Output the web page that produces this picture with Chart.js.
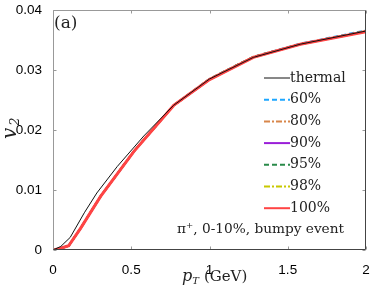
<!DOCTYPE html>
<html>
<head>
<meta charset="utf-8">
<script src="https://cdn.jsdelivr.net/npm/chart.js@4"></script>
<style>
  html, body { margin: 0; padding: 0; background: #fff; }
  #wrap { width: 374px; height: 291px; }
</style>
</head>
<body>
<div id="wrap"><canvas id="myChart" width="374" height="291"></canvas></div>
<script>
// pT values (GeV) and v2
const ptThermal = [0, 0.05, 0.11, 0.2, 0.28, 0.41, 0.58, 0.77, 1.0, 1.28, 1.58, 2.0];
const v2Thermal = [0, 0.0006, 0.0021, 0.0062, 0.0095, 0.0139, 0.019, 0.0241, 0.0285, 0.0321, 0.0343, 0.0365];

const ptBumpy = [0, 0.04, 0.1, 0.176, 0.303, 0.516, 0.771, 1.0, 1.28, 1.58, 2.0];
const v2Pct60 = [0, 0.0002, 0.0007, 0.0036, 0.0089, 0.0164, 0.0241, 0.0285, 0.0322, 0.0344, 0.0366];
const v2Pct80 = [0, 0.0002, 0.0007, 0.0036, 0.0089, 0.0164, 0.0241, 0.0285, 0.0322, 0.0343, 0.0365];
const v2Pct90 = [0, 0.0002, 0.0007, 0.0036, 0.0089, 0.0164, 0.0241, 0.0284, 0.0321, 0.0343, 0.0364];
const v2Pct95 = [0, 0.0002, 0.0007, 0.0036, 0.0089, 0.0164, 0.0241, 0.0285, 0.0322, 0.0343, 0.0365];
const v2Pct98 = [0, 0.0002, 0.0007, 0.0036, 0.0089, 0.0164, 0.0241, 0.0284, 0.0321, 0.0343, 0.0364];
const v2Pct100 = [0, 0.0002, 0.0007, 0.0036, 0.0089, 0.0164, 0.0241, 0.0284, 0.0321, 0.0343, 0.0364];

const xTicks = [0, 0.5, 1, 1.5, 2];
const yTicks = [0, 0.01, 0.02, 0.03, 0.04];

function pts(xs, ys) {
    return xs.map((x, i) => ({ x: x, y: ys[i] }));
}

const serif = "'DejaVu Serif', 'Liberation Serif', serif";
const sans = "Liberation Sans, Arial, sans-serif";

// box, inward ticks on all four sides, legend and labels
const decor = {
    id: 'decor',
    afterDraw(chart) {
        const ctx = chart.ctx;
        const a = chart.chartArea;
        const xs = chart.scales.x, ys = chart.scales.y;
        const L = a.left + 0.5, R = a.right - 0.5, T = a.top + 0.5, B = a.bottom - 0.5;
        ctx.save();
        ctx.lineWidth = 1;
        ctx.strokeStyle = '#999';
        ctx.beginPath();
        xTicks.forEach(t => {
            const px = Math.round(xs.getPixelForValue(t)) + 0.5;
            ctx.moveTo(px, B); ctx.lineTo(px, B - 3);
            ctx.moveTo(px, T); ctx.lineTo(px, T + 3);
        });
        yTicks.forEach(t => {
            const py = Math.round(ys.getPixelForValue(t)) + 0.5;
            ctx.moveTo(L, py); ctx.lineTo(L + 3, py);
            ctx.moveTo(R, py); ctx.lineTo(R - 3, py);
        });
        ctx.stroke();
        ctx.beginPath();
        ctx.moveTo(L, B); ctx.lineTo(L, T); ctx.lineTo(R, T);
        ctx.stroke();
        ctx.strokeStyle = '#444';
        ctx.beginPath();
        ctx.moveTo(L, B); ctx.lineTo(R, B); ctx.lineTo(R, T);
        ctx.stroke();

        // legend
        ctx.font = '14px ' + serif;
        ctx.textBaseline = 'middle';
        ctx.fillStyle = '#222';
        chart.data.datasets.forEach((ds, i) => {
            const y = 78 + i * 21.7;
            ctx.beginPath();
            ctx.strokeStyle = ds.borderColor;
            ctx.lineWidth = Math.min(ds.borderWidth, 2);
            ctx.setLineDash(ds.borderDash || []);
            ctx.moveTo(264, y); ctx.lineTo(290, y);
            ctx.stroke();
            ctx.setLineDash([]);
            ctx.fillText(ds.label, 290, y);
        });

        // annotation
        ctx.font = '13.7px ' + serif;
        ctx.fillText('π⁺, 0-10%, bumpy event', 177, 229);
        ctx.font = '17px ' + serif;
        ctx.fillText('(a)', 54, 24);

        // x axis title
        ctx.textBaseline = 'alphabetic';
        ctx.font = 'italic 16px ' + serif;
        let x0 = 182;
        ctx.fillText('p', x0, 281);
        x0 += ctx.measureText('p').width;
        ctx.font = 'italic 10px ' + serif;
        ctx.fillText('T', x0, 284);
        x0 += ctx.measureText('T').width + 5;
        ctx.font = '15px ' + serif;
        ctx.fillText('(GeV)', x0, 281);

        // y axis title
        ctx.translate(16, 139);
        ctx.rotate(-Math.PI / 2);
        ctx.font = 'italic 20px ' + serif;
        ctx.fillText('v', 0, 0);
        ctx.font = 'italic 13px ' + serif;
        ctx.fillText('2', ctx.measureText('v').width + 6, 3);
        ctx.restore();
    }
};

const ctx = document.getElementById('myChart').getContext('2d');
const myChart = new Chart(ctx, {
    type: 'line',
    data: {
        datasets: [
            { label: 'thermal', order: 0, data: pts(ptThermal, v2Thermal), borderColor: '#111', borderWidth: 1 },
            { label: '60%', order: 7, data: pts(ptBumpy, v2Pct60), borderColor: '#1ea7ff', borderWidth: 2, borderDash: [5, 3] },
            { label: '80%', order: 6, data: pts(ptBumpy, v2Pct80), borderColor: '#d8864a', borderWidth: 2, borderDash: [6, 2, 2, 2] },
            { label: '90%', order: 5, data: pts(ptBumpy, v2Pct90), borderColor: '#9a1ed8', borderWidth: 2 },
            { label: '95%', order: 4, data: pts(ptBumpy, v2Pct95), borderColor: '#2a8a4a', borderWidth: 2, borderDash: [5, 3] },
            { label: '98%', order: 3, data: pts(ptBumpy, v2Pct98), borderColor: '#c8c800', borderWidth: 2, borderDash: [6, 2, 2, 2] },
            { label: '100%', order: 1, data: pts(ptBumpy, v2Pct100), borderColor: '#ff4444', borderWidth: 3 }
        ]
    },
    options: {
        responsive: false,
        animation: false,
        parsing: false,
        elements: { point: { radius: 0 }, line: { tension: 0 } },
        layout: { padding: { top: 10, right: 8, left: 0, bottom: 0 } },
        plugins: { legend: { display: false }, tooltip: { enabled: false } },
        scales: {
            x: {
                type: 'linear', min: 0, max: 2,
                afterBuildTicks: s => { s.ticks = xTicks.map(v => ({ value: v })); },
                afterFit: s => { s.height = 41; s.paddingLeft = 0; s.paddingRight = 0; },
                grid: { display: false },
                border: { display: false },
                ticks: { color: '#000', padding: 4, font: { family: sans, size: 13.5 }, maxRotation: 0, callback: v => String(v) }
            },
            y: {
                type: 'linear', min: 0, max: 0.04,
                afterBuildTicks: s => { s.ticks = yTicks.map(v => ({ value: v })); },
                afterFit: s => { s.width = 53; s.paddingTop = 0; s.paddingBottom = 0; },
                grid: { display: false },
                border: { display: false },
                ticks: { color: '#000', padding: 3, font: { family: sans, size: 13.5 }, callback: v => String(v) }
            }
        }
    },
    plugins: [decor]
});
</script>
</body>
</html>
